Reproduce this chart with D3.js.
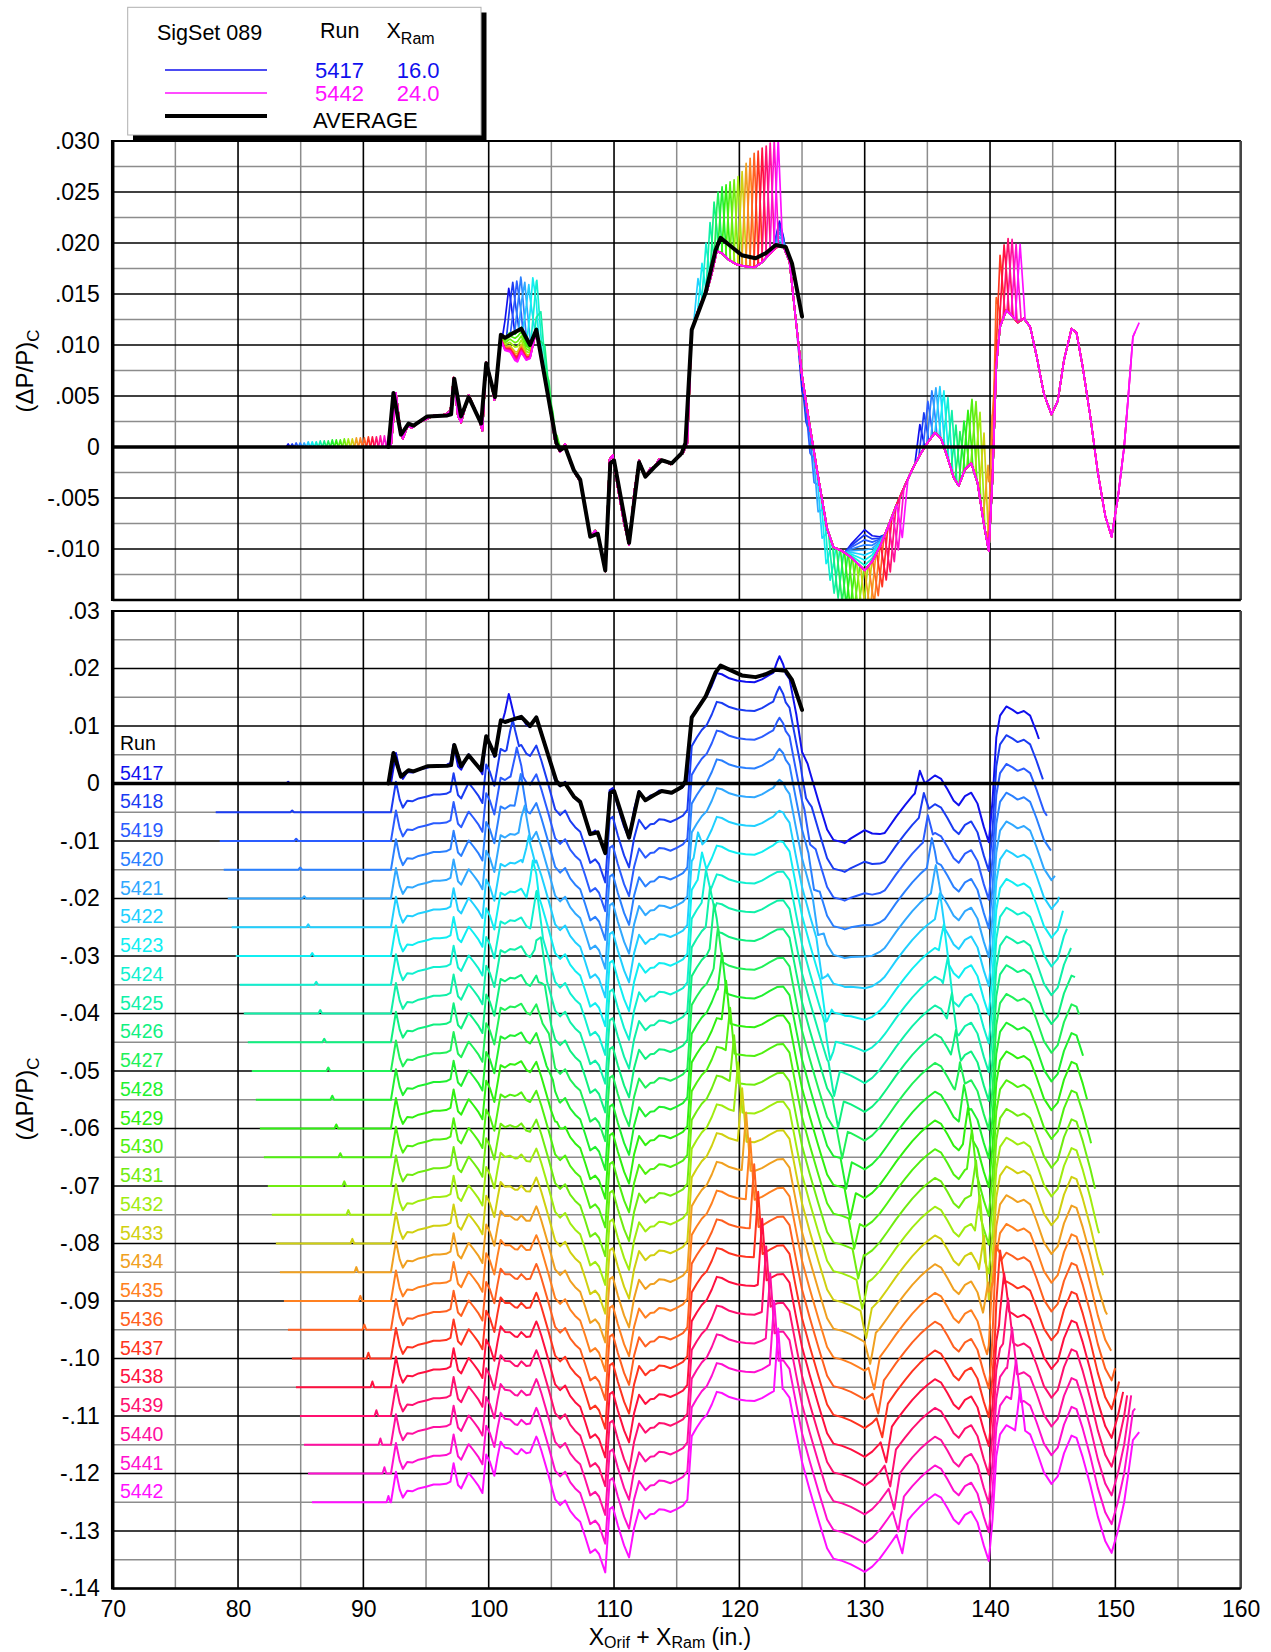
<!DOCTYPE html>
<html>
<head>
<meta charset="utf-8">
<script src="https://cdn.jsdelivr.net/npm/d3@7"></script>
<style>
  body { margin: 0; background: #fff; }
  svg { display: block; font-family: "Liberation Sans", Arial, Helvetica, sans-serif; }
</style>
</head>
<body>
<svg id="chart" width="1271" height="1652"></svg>
<script>
// ---------------- data ----------------
const runs = [5417, 5418, 5419, 5420, 5421, 5422, 5423, 5424, 5425, 5426, 5427, 5428, 5429,
              5430, 5431, 5432, 5433, 5434, 5435, 5436, 5437, 5438, 5439, 5440, 5441, 5442];
const xRam = [16.0, 16.32, 16.64, 16.96, 17.28, 17.6, 17.92, 18.24, 18.56, 18.88, 19.2, 19.52, 19.84,
              20.16, 20.48, 20.8, 21.12, 21.44, 21.76, 22.08, 22.4, 22.72, 23.04, 23.36, 23.68, 24.0];
const runColors = ["#1010ee", "#1a3cf2", "#2a5cff", "#2a80ff", "#30a8ff", "#20d0ff", "#10eef2", "#10f0d0",
                   "#10f0a8", "#10f080", "#20f058", "#20f030", "#30f010", "#50f010", "#70ec10", "#a0ec10",
                   "#d0d010", "#f0a020", "#ff8020", "#ff6020", "#ff3420", "#ff1040", "#ff1070", "#ff10a0",
                   "#ff10d0", "#ff10ff"];

// Common pressure signature, located in X_Orif + X_Ram (in.)
const leadProfile = [[60.0, 0.0], [92.2, 0.0]];
const bodyProfile = [
  [92.6, 0.0053], [92.9, 0.0022], [93.15, 0.0008], [93.5, 0.0020], [93.9, 0.0019], [94.4, 0.0024],
  [95.0, 0.0027], [95.6, 0.0031], [96.1, 0.0031], [96.6, 0.0032], [96.95, 0.0036], [97.2, 0.0068],
  [97.55, 0.0030], [97.8, 0.0024], [98.15, 0.0040], [98.4, 0.0051], [98.8, 0.0040], [99.2, 0.0028],
  [99.5, 0.0016], [99.8, 0.0083], [100.1, 0.0070], [100.45, 0.0046], [100.95, 0.0110], [101.3, 0.0106],
  [101.7, 0.0112], [102.1, 0.0111], [102.6, 0.0117], [103.0, 0.0102], [103.3, 0.0098], [103.8, 0.0116],
  [104.2, 0.0090], [104.8, 0.0045], [105.3, 0.0005], [105.7, -0.0005], [106.1, 0.0003], [106.5, -0.0015],
  [106.9, -0.0026], [107.3, -0.0034], [107.7, -0.0060], [108.1, -0.0088], [108.5, -0.0082], [108.8, -0.0090],
  [109.3, -0.0122], [109.65, -0.0012], [109.9, -0.0008], [110.3, -0.0040], [110.8, -0.0075], [111.2, -0.0096],
  [111.6, -0.0045], [112.0, -0.0013], [112.5, -0.0029], [112.9, -0.0021], [113.2, -0.0020], [113.6, -0.0012],
  [114.0, -0.0013], [114.5, -0.0017], [115.0, -0.0012], [115.5, -0.0006], [115.85, 0.0004]
];
const plateauProfile = [
  [116.2, 0.0115], [116.6, 0.0130], [117.0, 0.0143], [117.4, 0.0152], [117.8, 0.0170], [118.2, 0.0192],
  [118.6, 0.0190], [119.2, 0.0183], [119.8, 0.0179], [120.5, 0.0177], [121.2, 0.0176], [121.8, 0.0181],
  [122.4, 0.0189], [123.0, 0.0196], [123.5, 0.0197], [124.0, 0.0182], [124.5, 0.0125], [125.0, 0.0070]
];
const valleyProfile = [
  [125.6, 0.0022], [126.3, -0.0030], [127.0, -0.0080], [127.5, -0.0098], [128.2, -0.0102], [128.9, -0.0108],
  [129.5, -0.0115], [130.0, -0.0121], [130.6, -0.0112], [131.2, -0.0098], [131.8, -0.0080], [132.5, -0.0058],
  [133.2, -0.0038], [133.8, -0.0022], [134.4, -0.0008], [135.0, 0.0004], [135.6, 0.0014], [136.1, 0.0008],
  [136.6, -0.0010], [137.1, -0.0030], [137.5, -0.0038], [138.0, -0.0022], [138.5, -0.0016], [139.0, -0.0035],
  [139.5, -0.0075], [139.9, -0.0102]
];
const tailProfile = [
  [140.2, -0.0030], [140.5, 0.0080], [140.8, 0.0118], [141.3, 0.0134], [141.8, 0.0128], [142.2, 0.0122],
  [142.7, 0.0126], [143.2, 0.0118], [143.7, 0.0090], [144.3, 0.0052], [144.9, 0.0032], [145.4, 0.0045],
  [145.9, 0.0085], [146.5, 0.0116], [146.9, 0.0112], [147.4, 0.0078], [148.0, 0.0030], [148.6, -0.0025],
  [149.2, -0.0068], [149.7, -0.0088], [150.2, -0.0050], [150.7, 0.0000], [151.0, 0.0045], [151.4, 0.0108],
  [151.9, 0.0122], [153.0, 0.0122]
];

// Features that travel with the ram (X_Orif positions, in.) and their size for each run
const orifStartX = 61.9, orifEndX = 127.9;
const leadSpikeOrif = 68.0, humpOrif = 85.6, crestOrif = 99.1, notchOrif = 109.0, spikeOrif = 118.4;
const leadH = [0.0003, 0.0003, 0.0004, 0.0004, 0.0004, 0.0005, 0.0005, 0.0005, 0.0006, 0.0006, 0.0006, 0.0007, 0.0007,
               0.0007, 0.0008, 0.0008, 0.0008, 0.0009, 0.0009, 0.0009, 0.0010, 0.0010, 0.0010, 0.0011, 0.0011, 0.0011];
const humpH = [0.0045, 0.0050, 0.0050, 0.0050, 0.0055, 0.0060, 0.0060, 0.0050, 0.0040, 0.0030, 0.0020, 0.0015, 0.0010,
               0, 0, 0, 0, 0, 0, 0, 0, 0, 0, 0, 0, 0];
const crestPeak = [null, null, null, null, null, 0.0165, 0.0180, 0.0200, 0.0220, 0.0240, 0.0250, 0.0255, 0.0257,
                   0.0260, 0.0262, 0.0265, 0.0270, 0.0278, 0.0283, 0.0288, 0.0290, 0.0293, 0.0295, 0.0298, 0.0300, 0.0302];
const notchD = [0.0015, 0.0020, 0.0025, 0.0030, 0.0035, 0.0038, 0.0040, 0.0042, 0.0045, 0.0048, 0.0050, 0.0050, 0.0050,
                0.0048, 0.0046, 0.0045, 0.0045, 0.0045, 0.0045, 0.0045, 0.0045, 0.0048, 0.0050, 0.0050, 0.0048, 0.0045];
const spikeH = [0.0030, 0.0035, 0.0040, 0.0045, 0.0045, 0.0050, 0.0055, 0.0060, 0.0060, 0.0055, 0.0050, 0.0050, 0.0055,
                0.0065, 0.0075, 0.0085, 0.0090, 0.0080, 0.0070, 0.0070, 0.0070, 0.0070, 0.0072, 0.0075, 0.0075, 0.0075];
// Features fixed in X_Orif + X_Ram
const sagCenter = 102.3, ridgeCenter = 123.2, valleyCenter = 130.0;
const sagD = [0, 0, 0, 0, 0, 0, 0, 0, 0, 0, 0, 0, 0, -0.0005, -0.0010, -0.0015, -0.0020, -0.0022, -0.0024,
              -0.0025, -0.0025, -0.0026, -0.0027, -0.0028, -0.0029, -0.0030];
const ridgeH = [0.0025, 0.0022, 0.0018, 0.0014, 0.0010, 0.0006, 0.0003, 0, 0, 0, 0, 0, 0,
                0, 0, 0, 0, 0, 0, 0, 0, 0, 0, 0, 0, 0];
const valleyLift = [0.0040, 0.0035, 0.0030, 0.0025, 0.0020, 0.0015, 0.0010, 0.0005, 0, 0, 0, 0, 0,
                    0, 0, 0, 0, 0, 0, 0, 0, 0, 0, 0, 0, 0];

// Average of all runs
const avgX = [92.0, 92.4, 93.0, 93.6, 94.0, 95.1, 96.7, 97.0, 97.25, 97.8, 98.4, 99.4, 99.8, 100.5, 100.97,
              101.3, 102.0, 102.6, 103.3, 103.8, 105.4, 105.7, 106.1, 106.8, 107.3, 108.1, 108.7, 109.3,
              109.7, 110.0, 111.2, 112.0, 112.5, 113.2, 113.8, 114.6, 115.4, 115.7, 116.2, 116.6, 117.3,
              118.1, 118.5, 119.2, 120.2, 121.3, 122.1, 122.9, 123.7, 124.2, 125.0];
const avgY = [0, 0.0053, 0.0012, 0.0023, 0.0021, 0.0030, 0.0031, 0.0032, 0.0067, 0.0030, 0.0049, 0.0023, 0.0082,
              0.0049, 0.0110, 0.0107, 0.0112, 0.0116, 0.0100, 0.0115, 0.0004, -0.0003, 0.0000, -0.0023, -0.0032,
              -0.0088, -0.0085, -0.0121, -0.0016, -0.0013, -0.0094, -0.0015, -0.0029, -0.0020, -0.0013, -0.0016,
              -0.0006, 0.0004, 0.0115, 0.0128, 0.0151, 0.0193, 0.0205, 0.0198, 0.0188, 0.0185, 0.0190, 0.0198,
              0.0196, 0.0180, 0.0128];

// Axis ticks
const xTickVals = [70, 80, 90, 100, 110, 120, 130, 140, 150, 160];
const xTickLabels = ["70", "80", "90", "100", "110", "120", "130", "140", "150", "160"];
const topTickVals = [0.030, 0.025, 0.020, 0.015, 0.010, 0.005, 0, -0.005, -0.010];
const topTickLabels = [".030", ".025", ".020", ".015", ".010", ".005", "0", "-.005", "-.010"];
const botTickVals = [0.03, 0.02, 0.01, 0, -0.01, -0.02, -0.03, -0.04, -0.05, -0.06, -0.07, -0.08, -0.09,
                     -0.10, -0.11, -0.12, -0.13, -0.14];
const botTickLabels = [".03", ".02", ".01", "0", "-.01", "-.02", "-.03", "-.04", "-.05", "-.06", "-.07", "-.08",
                       "-.09", "-.10", "-.11", "-.12", "-.13", "-.14"];
const stackStep = 0.005;

// ---------------- layout ----------------
const svg = d3.select("#chart");
const x = d3.scaleLinear().domain([70, 160]).range([112.7, 1240.7]);
const yTop = d3.scaleLinear().domain([-0.015, 0.030]).range([600, 141]);
const yBot = d3.scaleLinear().domain([-0.14, 0.03]).range([1588.5, 611]);

const base = [].concat(leadProfile, bodyProfile, plateauProfile, valleyProfile, tailProfile);
const baseX = base.map(d => d[0]);
const baseAt = d3.scaleLinear().domain(baseX).range(base.map(d => d[1])).clamp(true);

// one run's trace: common signature plus the features that belong to this run
function runSeries(r) {
  const s = xRam[r];
  const x0 = orifStartX + s, x1 = orifEndX + s;
  const cx = crestOrif + s;
  const feats = [
    [leadSpikeOrif + s, 0.15, leadH[r]],
    [humpOrif + s, 0.5, humpH[r]],
    [sagCenter, 1.6, sagD[r]],
    [cx, 0.35, crestPeak[r] == null ? 0 : Math.max(0, crestPeak[r] - baseAt(cx))],
    [notchOrif + s, 0.45, -notchD[r]],
    [spikeOrif + s, 0.4, spikeH[r]],
    [ridgeCenter, 0.5, ridgeH[r]],
    [valleyCenter, 1.6, valleyLift[r]]
  ];
  let xs = baseX.filter(v => v > x0 && v < x1);
  xs.push(x0, x1);
  feats.forEach(([c, w, h]) => {
    if (h !== 0) [c - w, c, c + w].forEach(v => { if (v > x0 && v < x1) xs.push(v); });
  });
  xs.sort((a, b) => a - b);
  xs = xs.filter((v, i) => i === 0 || v - xs[i - 1] > 1e-6);
  return xs.map(v => [v, baseAt(v) + feats.reduce((acc, [c, w, h]) =>
    acc + h * Math.max(0, 1 - Math.abs(v - c) / w), 0)]);
}
const series = runs.map((run, r) => runSeries(r));
const avgSeries = avgX.map((v, i) => [v, avgY[i]]);

const defs = svg.append("defs");
function clip(id, y) {
  defs.append("clipPath").attr("id", id).append("rect")
    .attr("x", x(70)).attr("y", y.range()[1])
    .attr("width", x(160) - x(70)).attr("height", y.range()[0] - y.range()[1]);
}
clip("clipTop", yTop);
clip("clipBot", yBot);

function drawGrid(y, hVals, isMajor) {
  const g = svg.append("g");
  const xl = x(70), xr = x(160), yt = y.range()[1], yb = y.range()[0];
  const vVals = d3.range(70, 161, 5);
  [false, true].forEach(major => {
    vVals.filter(v => (v % 10 === 0) === major).forEach(v => {
      g.append("line").attr("x1", x(v)).attr("x2", x(v)).attr("y1", yt).attr("y2", yb)
        .attr("stroke", major ? "#000" : "#8c8c8c").attr("stroke-width", major ? 1.6 : 1.5);
    });
    hVals.forEach((v, i) => {
      if (isMajor(i) !== major) return;
      g.append("line").attr("x1", xl).attr("x2", xr).attr("y1", y(v)).attr("y2", y(v))
        .attr("stroke", major ? "#000" : "#8c8c8c").attr("stroke-width", major ? 1.6 : 1.5);
    });
  });
}

function drawPanel(y, clipId, offsetFn, lineW) {
  const gLines = svg.append("g").attr("clip-path", `url(#${clipId})`);
  series.forEach((pts, r) => {
    const off = offsetFn(r);
    const line = d3.line().x(d => x(d[0])).y(d => y(d[1] + off));
    gLines.append("path").attr("d", line(pts)).attr("fill", "none")
      .attr("stroke", runColors[r]).attr("stroke-width", lineW).attr("stroke-linejoin", "round");
  });
  // zero reference
  svg.append("line").attr("x1", x(70)).attr("x2", x(160)).attr("y1", y(0)).attr("y2", y(0))
    .attr("stroke", "#000").attr("stroke-width", 3.6);
  // average
  const avgLine = d3.line().x(d => x(d[0])).y(d => y(d[1]));
  svg.append("g").attr("clip-path", `url(#${clipId})`).append("path")
    .attr("d", avgLine(avgSeries)).attr("fill", "none").attr("stroke", "#000")
    .attr("stroke-width", 4).attr("stroke-linejoin", "round").attr("stroke-linecap", "round");
}

function drawFrame(y) {
  const xl = x(70), xr = x(160), yt = y.range()[1], yb = y.range()[0];
  const g = svg.append("g");
  g.append("line").attr("x1", xl).attr("x2", xr).attr("y1", yt).attr("y2", yt).attr("stroke", "#000").attr("stroke-width", 2);
  g.append("line").attr("x1", xr).attr("x2", xr).attr("y1", yt).attr("y2", yb).attr("stroke", "#444").attr("stroke-width", 2.5);
  g.append("line").attr("x1", xl).attr("x2", xr).attr("y1", yb).attr("y2", yb).attr("stroke", "#000").attr("stroke-width", 2.5);
  g.append("line").attr("x1", xl).attr("x2", xl).attr("y1", yt - 1).attr("y2", yb + 1).attr("stroke", "#000").attr("stroke-width", 3.5);
}

function yAxis(y, vals, labels) {
  const ax = d3.axisLeft(y).tickValues(vals).tickFormat((d, i) => labels[i]).tickSize(0).tickPadding(13);
  const g = svg.append("g").attr("transform", `translate(${x(70)},0)`).call(ax);
  g.select(".domain").remove();
  g.selectAll("text").attr("font-size", 23).attr("font-family", "Liberation Sans, Arial, sans-serif").attr("fill", "#000");
}

// top panel: all runs overlaid
const topGridVals = d3.range(-6, 13).map(i => i * 0.0025);
drawGrid(yTop, topGridVals, i => (i % 2 === 0));
drawPanel(yTop, "clipTop", () => 0, 1.7);
drawFrame(yTop);
yAxis(yTop, topTickVals, topTickLabels);

// bottom panel: runs stacked
const botGridVals = d3.range(-28, 7).map(i => i * 0.005);
drawGrid(yBot, botGridVals, i => (i % 2 === 0));
drawPanel(yBot, "clipBot", r => -stackStep * r, 2.0);
drawFrame(yBot);
yAxis(yBot, botTickVals, botTickLabels);

// x axis
const xAx = d3.axisBottom(x).tickValues(xTickVals).tickFormat((d, i) => xTickLabels[i]).tickSize(0).tickPadding(12);
const gx = svg.append("g").attr("transform", `translate(0,${yBot.range()[0]})`).call(xAx);
gx.select(".domain").remove();
gx.selectAll("text").attr("font-size", 23).attr("font-family", "Liberation Sans, Arial, sans-serif").attr("fill", "#000");

// axis titles
const xt = svg.append("text").attr("x", 670).attr("y", 1645).attr("text-anchor", "middle").attr("font-size", 23);
xt.append("tspan").text("X");
xt.append("tspan").attr("font-size", 16).attr("dy", 3).text("Orif");
xt.append("tspan").attr("dy", -3).text(" + X");
xt.append("tspan").attr("font-size", 16).attr("dy", 3).text("Ram");
xt.append("tspan").attr("dy", -3).text(" (in.)");

function yTitle(cy) {
  const t = svg.append("text").attr("transform", `translate(33,${cy}) rotate(-90)`)
    .attr("text-anchor", "middle").attr("font-size", 24);
  t.append("tspan").text("(\u0394P/P)");
  t.append("tspan").attr("font-size", 17).attr("dy", 6).text("C");
}
yTitle(371);
yTitle(1099);

// run labels in stacked panel
svg.append("text").attr("x", 120).attr("y", 750).attr("font-size", 19.5).attr("fill", "#000").text("Run");
runs.forEach((run, r) => {
  svg.append("text").attr("x", 120).attr("y", yBot(-stackStep * r) - 4)
    .attr("font-size", 19.5).attr("fill", runColors[r]).text(run);
});

// legend
const lg = svg.append("g");
lg.append("rect").attr("x", 133).attr("y", 12.5).attr("width", 353.5).attr("height", 128).attr("fill", "#000");
lg.append("rect").attr("x", 127.7).attr("y", 7.3).attr("width", 353.3).attr("height", 127.7)
  .attr("fill", "#fff").attr("stroke", "#b0b0b0").attr("stroke-width", 1);
lg.append("text").attr("x", 157).attr("y", 40).attr("font-size", 21.5).text("SigSet 089");
lg.append("text").attr("x", 320).attr("y", 37.5).attr("font-size", 21.5).text("Run");
const lx = lg.append("text").attr("x", 386.5).attr("y", 37.5).attr("font-size", 21.5);
lx.append("tspan").text("X");
lx.append("tspan").attr("font-size", 16).attr("dy", 6).text("Ram");
const legendRows = [
  { color: runColors[0], run: String(runs[0]), ram: xRam[0].toFixed(1), y: 70, base: 78.3, w: 1.6 },
  { color: runColors[25], run: String(runs[25]), ram: xRam[25].toFixed(1), y: 93, base: 100.7, w: 1.6 },
  { color: "#000", run: "AVERAGE", ram: "", y: 116, base: 127.7, w: 4 }
];
legendRows.forEach(d => {
  lg.append("line").attr("x1", 165).attr("x2", 267).attr("y1", d.y).attr("y2", d.y)
    .attr("stroke", d.color).attr("stroke-width", d.w);
  lg.append("text").attr("x", d.ram ? 315 : 313).attr("y", d.base).attr("font-size", 22)
    .attr("fill", d.color).text(d.run);
  if (d.ram) lg.append("text").attr("x", 439.5).attr("y", d.base).attr("text-anchor", "end")
    .attr("font-size", 22).attr("fill", d.color).text(d.ram);
});
</script>
</body>
</html>
